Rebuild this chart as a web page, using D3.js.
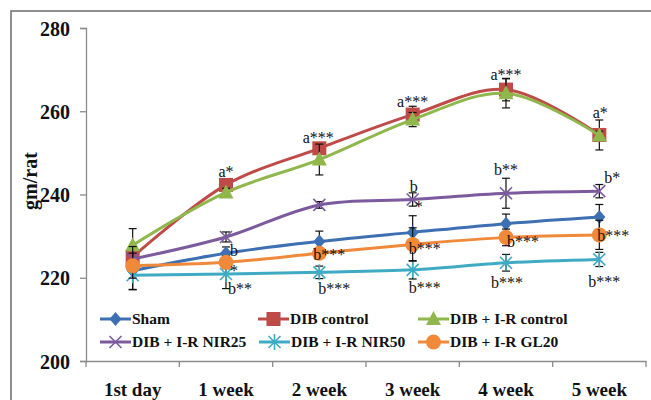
<!DOCTYPE html>
<html>
<head>
<meta charset="utf-8">
<script src="https://cdn.jsdelivr.net/npm/d3@7"></script>
<style>
  html, body { margin: 0; padding: 0; background: #fff; }
  svg { display: block; }
</style>
</head>
<body>
<svg id="chart" width="651" height="400"></svg>
<script>
// ---------- DATA ----------
const categories = ["1st day", "1 week", "2 week", "3 week", "4 week", "5 week"];
const yTicks = [200, 220, 240, 260, 280];

const seriesNames = ["Sham", "DIB control", "DIB + I-R control", "DIB + I-R NIR25", "DIB + I-R NIR50", "DIB + I-R GL20"];

const sham        = [221.7, 225.9, 228.7, 230.9, 233.0, 234.6];
const shamErr     = [4.5, 1.5, 2.5, 4.0, 2.3, 3.0];
const dibControl  = [225.0, 242.3, 251.1, 259.2, 265.2, 254.3];
const dibControlErr = [2.0, 1.0, 1.0, 2.0, 2.7, 3.6];
const irControl   = [227.8, 240.5, 248.4, 258.0, 264.3, 254.2];
const irControlErr = [4.0, 1.0, 3.7, 1.7, 3.5, 1.0];
const nir25       = [224.5, 229.8, 237.5, 238.8, 240.3, 240.8];
const nir25Err    = [3.0, 1.2, 0.8, 1.6, 3.6, 1.6];
const nir50       = [220.6, 220.9, 221.3, 221.9, 223.6, 224.4];
const nir50Err    = [3.5, 3.5, 1.5, 2.2, 2.0, 1.7];
const gl20        = [222.9, 223.7, 225.9, 228.0, 229.7, 230.3];
const gl20Err     = [3.0, 1.5, 1.0, 4.0, 2.0, 3.5];

// significance labels: [text, category index, series index]
const sigLabels = [
  ["a*", 1, 1], ["a***", 2, 1], ["a***", 3, 1], ["a***", 4, 1], ["a*", 5, 1],
  ["b", 1, 0], ["*", 1, 5], ["b**", 1, 4],
  ["b***", 2, 5], ["b***", 2, 4],
  ["b", 3, 3], ["*", 3, 3], ["b***", 3, 5], ["b***", 3, 4],
  ["b**", 4, 3], ["b***", 4, 5], ["b***", 4, 4],
  ["b*", 5, 3], ["b***", 5, 5], ["b***", 5, 4]
];

// ---------- LAYOUT / STYLE ----------
const seriesValues = [sham, dibControl, irControl, nir25, nir50, gl20];
const seriesErrors = [shamErr, dibControlErr, irControlErr, nir25Err, nir50Err, gl20Err];
const colors = ["#3D70B2", "#BE4B48", "#8FB74B", "#7B5B9E", "#3FAAC4", "#F0893A"];
const markerTypes = ["diamond", "square", "triangle", "x", "star", "circle"];
// label offsets (px), anchor
const sigLayout = [
  [0, -8, "middle"], [-1, -5, "middle"], [0, -8, "middle"], [0, -10, "middle"], [1, -17, "middle"],
  [4, 3, "start"], [4, 14, "start"], [2, 20, "start"],
  [-6, 7, "start"], [-1, 22, "start"],
  [-3, -7, "start"], [2, 13, "start"], [-4, 10, "start"], [-4, 23, "start"],
  [0, -18, "middle"], [1, 10, "start"], [1, 25, "middle"],
  [5, -8, "start"], [-2, 6, "start"], [5, 28, "middle"]
];

const svg = d3.select("#chart");
const serif = "'Liberation Serif', 'Times New Roman', serif";

// outer border
svg.append("rect").attr("x", 11).attr("y", 11).attr("width", 720).attr("height", 500)
  .attr("fill", "none").attr("stroke", "#6b6b6b").attr("stroke-width", 1.5);

const x = d3.scaleBand().domain(categories).range([86, 646]).padding(0);
const y = d3.scaleLinear().domain([200, 280]).range([361, 28]);
const cx = i => x(categories[i]) + x.bandwidth() / 2;

// y axis
const yAxis = svg.append("g").attr("transform", "translate(86,0)")
  .call(d3.axisLeft(y).tickValues(yTicks).tickSize(6).tickPadding(10).tickFormat(d3.format("d")));
yAxis.select(".domain").attr("stroke", "#8c8c8c").attr("stroke-width", 1.3);
yAxis.selectAll(".tick line").attr("stroke", "#8c8c8c").attr("stroke-width", 1.3);
yAxis.selectAll(".tick text").attr("font-family", serif).attr("font-weight", "bold")
  .attr("font-size", 20).attr("fill", "#111").attr("dy", "0.35em");

// x axis
const xAxis = svg.append("g").attr("transform", "translate(0,361)")
  .call(d3.axisBottom(x).tickSize(0).tickPadding(22));
xAxis.select(".domain").attr("stroke", "#8c8c8c").attr("stroke-width", 1.3);
xAxis.selectAll(".tick text").attr("font-family", serif).attr("font-weight", "bold")
  .attr("font-size", 19).attr("fill", "#111");
// boundary ticks
const bounds = categories.map(c => x(c)).concat([x.range()[1]]);
xAxis.selectAll(".bt").data(bounds).enter().append("line")
  .attr("x1", d => d).attr("x2", d => d).attr("y1", 0).attr("y2", 6)
  .attr("stroke", "#8c8c8c").attr("stroke-width", 1.3);

// y title
svg.append("text").attr("transform", "translate(37,181) rotate(-90)")
  .attr("text-anchor", "middle").attr("font-family", serif).attr("font-weight", "bold")
  .attr("font-size", 20).attr("fill", "#111").text("gm/rat");

function drawMarker(g, type, color, px, py) {
  if (type === "diamond") {
    g.append("path").attr("d", `M${px},${py - 7}L${px + 6},${py}L${px},${py + 7}L${px - 6},${py}Z`).attr("fill", color);
  } else if (type === "square") {
    g.append("rect").attr("x", px - 7).attr("y", py - 7).attr("width", 14).attr("height", 14).attr("fill", color);
  } else if (type === "triangle") {
    g.append("path").attr("d", `M${px},${py - 8}L${px + 7.5},${py + 6}L${px - 7.5},${py + 6}Z`).attr("fill", color);
  } else if (type === "circle") {
    g.append("circle").attr("cx", px).attr("cy", py).attr("r", 7.5).attr("fill", color);
  } else if (type === "x") {
    g.append("path").attr("d", `M${px - 6},${py - 6}L${px + 6},${py + 6}M${px - 6},${py + 6}L${px + 6},${py - 6}`)
      .attr("stroke", color).attr("stroke-width", 1.6);
  } else if (type === "star") {
    g.append("path").attr("d", `M${px - 6},${py - 6}L${px + 6},${py + 6}M${px - 6},${py + 6}L${px + 6},${py - 6}M${px},${py - 8}L${px},${py + 8}`)
      .attr("stroke", color).attr("stroke-width", 1.6);
  }
}

const line = d3.line().x((d, i) => cx(i)).y(d => y(d)).curve(d3.curveCatmullRom.alpha(0.5));

seriesValues.forEach((vals, s) => {
  const g = svg.append("g");
  // error bars
  vals.forEach((v, i) => {
    const e = seriesErrors[s][i];
    const px = cx(i);
    g.append("line").attr("x1", px).attr("x2", px).attr("y1", y(v - e)).attr("y2", y(v + e))
      .attr("stroke", "#111").attr("stroke-width", 1.2);
    [v - e, v + e].forEach(t => g.append("line").attr("x1", px - 4).attr("x2", px + 4)
      .attr("y1", y(t)).attr("y2", y(t)).attr("stroke", "#111").attr("stroke-width", 1.2));
  });
  g.append("path").attr("d", line(vals)).attr("fill", "none")
    .attr("stroke", colors[s]).attr("stroke-width", 3);
  vals.forEach((v, i) => drawMarker(g, markerTypes[s], colors[s], cx(i), y(v)));
});

// significance labels
sigLabels.forEach((l, k) => {
  const [txt, ci, si] = l;
  const [dx, dy, anchor] = sigLayout[k];
  svg.append("text").attr("x", cx(ci) + dx).attr("y", y(seriesValues[si][ci]) + dy)
    .attr("text-anchor", anchor).attr("font-family", serif).attr("font-size", 16)
    .attr("fill", "#111").text(txt);
});

// legend
const legendPos = [[100, 319], [258, 319], [418, 319], [100, 342], [259, 342], [418, 342]];
seriesNames.forEach((name, s) => {
  const [lx, ly] = legendPos[s];
  const g = svg.append("g");
  g.append("line").attr("x1", lx).attr("x2", lx + 31).attr("y1", ly).attr("y2", ly)
    .attr("stroke", colors[s]).attr("stroke-width", 3);
  drawMarker(g, markerTypes[s], colors[s], lx + 15.5, ly);
  g.append("text").attr("x", lx + 32).attr("y", ly).attr("dy", "0.35em")
    .attr("font-family", serif).attr("font-weight", "bold").attr("font-size", 15.5)
    .attr("fill", "#111").text(name);
});
</script>
</body>
</html>
